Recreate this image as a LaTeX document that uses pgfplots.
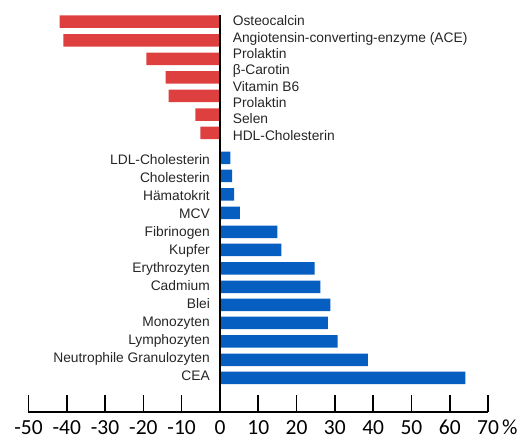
\documentclass[border=0pt]{standalone}
\usepackage{pgfplots}
\pgfplotsset{compat=1.18}
\usepackage{fontspec}
\setmainfont{Liberation Sans}
\newfontfamily\carlito{Carlito}
\definecolor{barred}{RGB}{222,64,64}
\definecolor{barblue}{RGB}{6,94,192}
\definecolor{lbl}{RGB}{38,38,38}
\tikzset{lab/.style={inner sep=0pt, text=lbl, font=\fontsize{13.8}{16}\selectfont}}
\begin{document}
\begin{tikzpicture}
\begin{axis}[
 scale only axis, width=459.6pt, height=412pt,
 xmin=-50, xmax=70, ymin=-412, ymax=0,
 axis x line=bottom, axis y line=none,
 axis line style={-, line width=1.6pt, black},
 xtick={-50,-40,...,70},
 xticklabels={-50,-40,-30,-20,-10,0,10,20,30,40,50,60,70},
 xtick align=inside,
 major tick length=17pt,
 tick style={black, line width=1.6pt},
 xticklabel style={anchor=base, yshift=-23pt, font=\carlito\fontsize{21.5}{24}\selectfont, inner sep=0pt},
 ytick=\empty,
 clip=false,
]
% negative (red) bars
\addplot[xbar, bar width=12.5, fill=barred, draw=none] coordinates {
 (-41.9,-21.7) (-40.9,-40.5) (-19.2,-58.8) (-14.2,-77.5) (-13.4,-96) (-6.4,-114.7) (-5.1,-133)
};
% positive (blue) bars
\addplot[xbar, bar width=12.5, fill=barblue, draw=none] coordinates {
 (2.7,-158) (3.2,-176) (3.7,-194.5) (5.2,-213) (15.0,-232) (16.0,-250) (24.7,-268.5)
 (26.2,-287) (28.8,-305) (28.2,-323) (30.7,-341.5) (38.6,-360) (64.1,-378)
};
\draw[line width=1.8pt, black] (axis cs:0,-15) -- (axis cs:0,-412);
% right-hand labels
\node[lab, anchor=base west] at (axis cs:3.3,-26) {Osteocalcin};
\node[lab, anchor=base west] at (axis cs:3.3,-42.3) {Angiotensin-converting-enzyme (ACE)};
\node[lab, anchor=base west] at (axis cs:3.3,-58.6) {Prolaktin};
\node[lab, anchor=base west] at (axis cs:3.3,-74.9) {β-Carotin};
\node[lab, anchor=base west] at (axis cs:3.3,-91.2) {Vitamin B6};
\node[lab, anchor=base west] at (axis cs:3.3,-107.5) {Prolaktin};
\node[lab, anchor=base west] at (axis cs:3.3,-123.8) {Selen};
\node[lab, anchor=base west] at (axis cs:3.3,-140.1) {HDL-Cholesterin};
% left-hand labels
\node[lab, anchor=base east] at (axis cs:-2.6,-165) {LDL-Cholesterin};
\node[lab, anchor=base east] at (axis cs:-2.6,-183) {Cholesterin};
\node[lab, anchor=base east] at (axis cs:-2.6,-201) {Hämatokrit};
\node[lab, anchor=base east] at (axis cs:-2.6,-218.9) {MCV};
\node[lab, anchor=base east] at (axis cs:-2.6,-236.9) {Fibrinogen};
\node[lab, anchor=base east] at (axis cs:-2.6,-254.9) {Kupfer};
\node[lab, anchor=base east] at (axis cs:-2.6,-272.8) {Erythrozyten};
\node[lab, anchor=base east] at (axis cs:-2.6,-290.8) {Cadmium};
\node[lab, anchor=base east] at (axis cs:-2.6,-308.8) {Blei};
\node[lab, anchor=base east] at (axis cs:-2.6,-326.7) {Monozyten};
\node[lab, anchor=base east] at (axis cs:-2.6,-344.7) {Lymphozyten};
\node[lab, anchor=base east] at (axis cs:-2.6,-362.7) {Neutrophile Granulozyten};
\node[lab, anchor=base east] at (axis cs:-2.6,-380.7) {CEA};
\node[anchor=base west, inner sep=0pt, font=\carlito\fontsize{21.5}{24}\selectfont] at (axis cs:73.6,-435) {\%};
\path (axis cs:-57.44,0) rectangle (axis cs:78.6,-445);
\end{axis}
\end{tikzpicture}
\end{document}
